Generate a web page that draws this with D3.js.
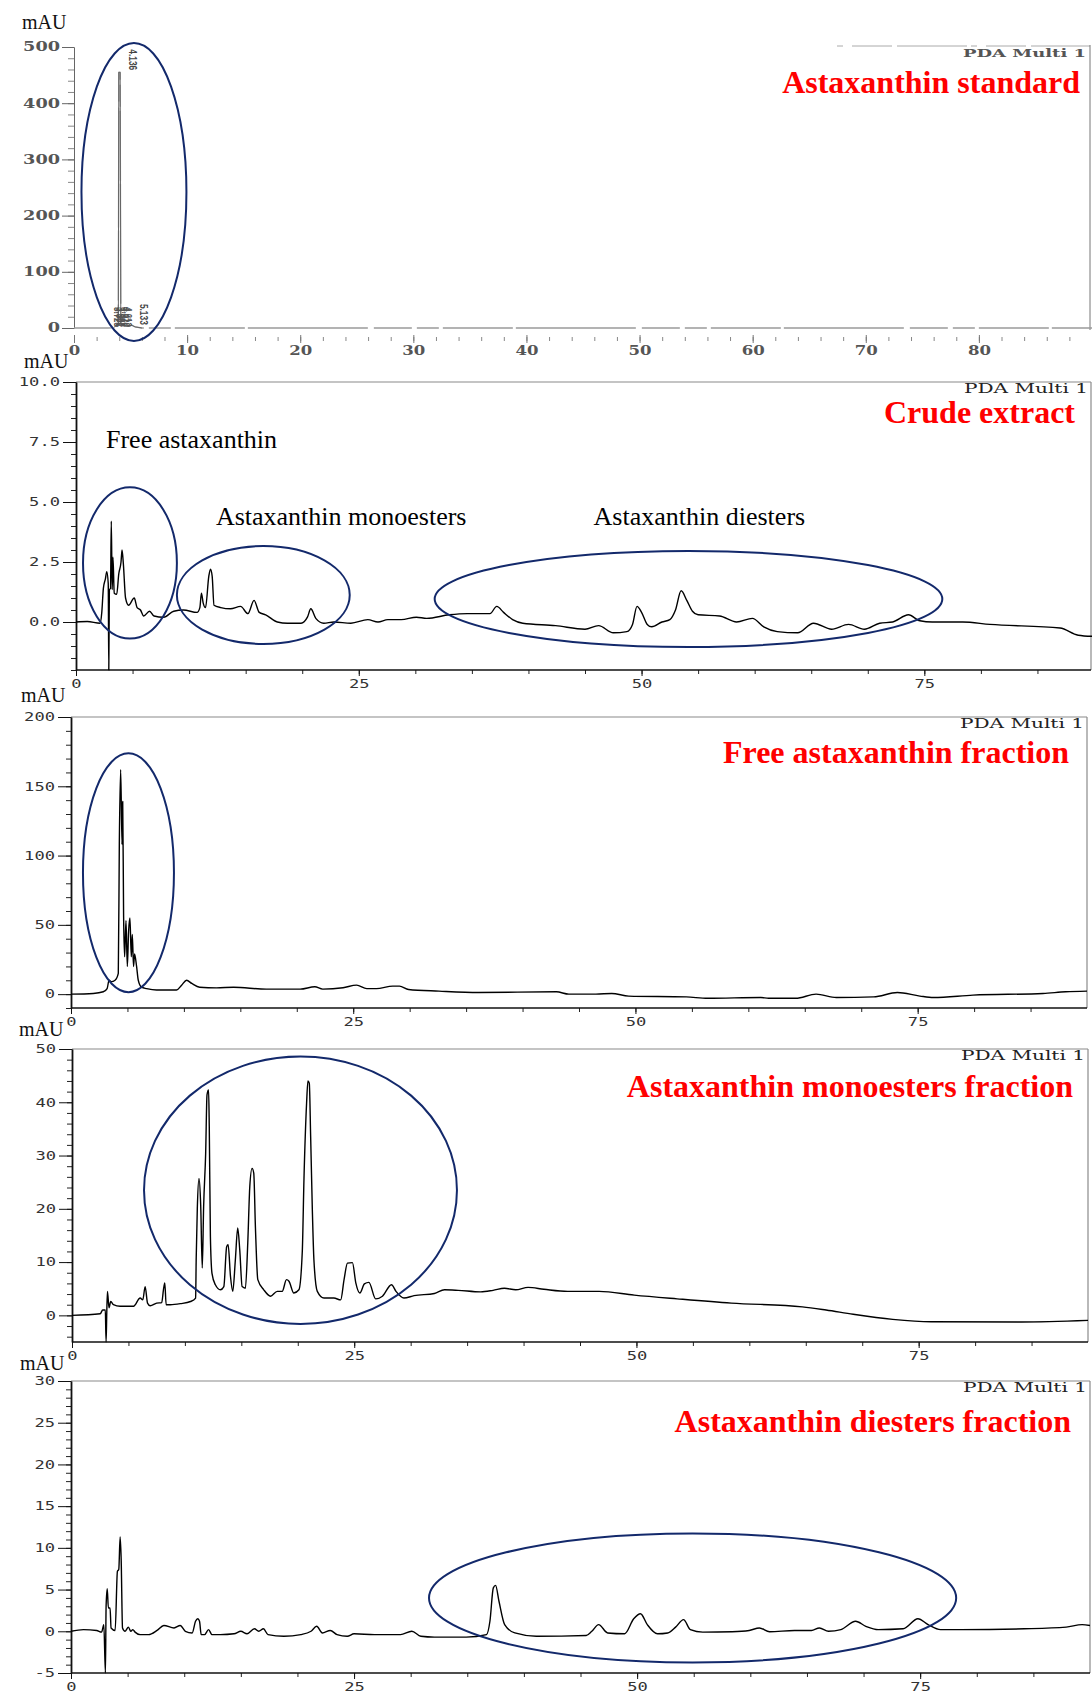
<!DOCTYPE html>
<html>
<head>
<meta charset="utf-8">
<script src="https://cdn.jsdelivr.net/npm/d3@7"></script>
<style>
  body { margin: 0; background: #fff; }
  svg { display: block; }
</style>
</head>
<body>
<div id="chart"></div>
<script>
// chromatogram traces: [retention time (min), absorbance (mAU)]
const standardTrace = [[0,0],[3.0,0],[3.5,0.5],[3.92,8],[3.96,455],[4.08,455],[4.14,8],[4.4,5],[4.8,3],[5.1,5],[5.4,2],[6,0],[90,0]];

const crudeTrace = [[0,0],[1,0.02],[2.13,-0.05],[2.28,0.4],[2.42,1.4],[2.6,1.8],[2.72,2.1],[2.85,1.6],[2.9,-2],[2.95,1.35],[3.05,1.4],[3.12,4.2],[3.2,1.35],[3.27,2.7],[3.38,1.2],[3.6,1.15],[3.78,2.0],[3.98,2.5],[4.07,3.0],[4.19,2.4],[4.38,1.0],[4.65,0.7],[5.15,1.0],[5.4,0.6],[5.7,0.5],[5.98,0.25],[6.5,0.45],[6.9,0.25],[7.75,0.2],[8.64,0.45],[9.5,0.5],[10.7,0.4],[10.95,0.6],[11.09,1.2],[11.24,0.8],[11.45,0.6],[11.74,1.9],[11.89,2.2],[12.04,1.9],[12.2,0.7],[12.8,0.6],[13.66,0.55],[14.55,0.65],[15.2,0.35],[15.74,0.9],[16.2,0.4],[16.77,0.3],[17.8,0.0],[18.7,-0.05],[19.9,-0.05],[20.46,0.2],[20.76,0.55],[21.2,0.15],[21.9,-0.05],[22.8,0.0],[24.3,-0.05],[25.8,0.1],[26.7,0.0],[27.57,0.1],[28.75,0.1],[30.1,0.2],[31.0,0.15],[33,0.3],[34.6,0.35],[36.6,0.35],[37.2,0.65],[37.8,0.4],[38.6,0.1],[39.5,-0.05],[42.4,-0.15],[45,-0.3],[46.2,-0.15],[47.5,-0.45],[48.7,-0.4],[49.2,-0.1],[49.6,0.65],[50.0,0.4],[50.5,-0.1],[50.9,-0.2],[51.8,0],[52.5,0.1],[53.0,0.5],[53.5,1.3],[54.0,0.9],[54.5,0.45],[55.0,0.3],[56.9,0.25],[58.4,0],[59.8,0.15],[60.8,-0.2],[62,-0.4],[63.8,-0.45],[65.2,-0.05],[66.8,-0.3],[68.3,-0.1],[69.7,-0.3],[71.05,-0.05],[72.2,0],[73.6,0.3],[74.6,0.05],[75.7,0],[78.4,0],[80.8,-0.1],[87,-0.25],[88.6,-0.55],[90,-0.6]];

const freeTrace = [[0,0],[1.97,0.5],[2.86,1.7],[3.2,4],[3.37,10],[3.58,9],[3.9,10],[4.19,15],[4.28,108],[4.4,162],[4.52,108],[4.58,139],[4.66,56],[4.75,27],[4.87,53],[4.99,20],[5.1,45],[5.22,55],[5.34,27],[5.43,43],[5.54,20],[5.63,29],[5.81,20],[5.96,10],[6.25,5],[6.7,4],[7.58,3],[9.35,3],[9.8,6.5],[10.24,10],[10.7,7.7],[11.4,5],[12.9,4.5],[14.4,5],[17.3,3.6],[20.3,3.6],[21.6,5.3],[22.3,3.6],[24.1,4.6],[25.3,6.5],[26.2,4],[27.05,4],[28.5,5.8],[29.1,5.8],[29.9,3.4],[32.6,2.2],[36.1,1.2],[43,1.7],[44.1,0],[46.5,0],[47.9,0.5],[49.4,-1.4],[54.5,-2],[56.4,-3],[61.1,-2.4],[61.8,-3],[64.2,-3],[66,0],[67.8,-2.4],[71.1,-2],[73.2,1.2],[75.2,-1.4],[76.4,-2.4],[79.9,-0.7],[86.1,0.5],[88.1,1.7],[90,2.2]];

const monoTrace = [[0,0],[2.5,0.3],[2.72,1],[2.95,1],[3.02,-5],[3.08,0.5],[3.14,4.5],[3.28,1.4],[3.43,2.6],[3.67,2],[4.26,1.7],[5.45,1.7],[6.04,3.25],[6.27,2.9],[6.48,5.4],[6.69,2.3],[6.93,1.8],[7.5,2.3],[7.95,2.4],[8.1,4.8],[8.22,6.1],[8.34,2],[8.7,2],[9.6,2.2],[10.5,2.6],[10.95,3.25],[11.0,10.4],[11.1,20],[11.25,25.7],[11.4,20.7],[11.54,8.9],[11.66,20.4],[11.84,30.4],[11.96,41.4],[12.1,42.3],[12.16,35.4],[12.26,14.8],[12.4,7.9],[12.7,5.75],[13.15,4.8],[13.45,5.4],[13.7,12.9],[13.83,13.25],[14.04,7.3],[14.24,4.5],[14.47,10.4],[14.68,16.4],[14.86,12.3],[15.07,5.4],[15.36,5.1],[15.57,13.6],[15.75,24.2],[15.95,27.6],[16.1,26.7],[16.25,16.4],[16.46,6.7],[16.99,4.8],[17.58,3.6],[18.18,4.5],[18.62,4.5],[19.0,6.7],[19.22,6.4],[19.65,4.2],[20.1,4.8],[20.4,12],[20.55,25.7],[20.78,39.8],[20.9,44],[21.02,43.6],[21.14,33.6],[21.29,19.8],[21.43,10.4],[21.73,4.5],[22.32,3.25],[23.2,3.25],[23.8,2.9],[24.1,6.7],[24.4,9.8],[24.84,9.9],[25.14,6.1],[25.5,4.2],[25.9,5.9],[26.3,6.2],[26.9,3.1],[27.5,3.6],[28.3,5.75],[28.7,4.5],[29.4,3.25],[30.3,3.7],[32.1,4.1],[33.0,4.8],[34.2,4.7],[36.2,4.4],[37.3,4.7],[38.3,5.1],[39.3,4.8],[40.4,5.25],[41.8,4.9],[43.9,4.5],[46.7,4.5],[49.8,3.8],[53.6,3.1],[58.4,2.3],[64.7,1.6],[66.8,1],[69.2,0.2],[72.7,-0.75],[76.1,-1.2],[84.1,-1.25],[90,-0.95]];

const diesterTrace = [[0,0],[1.1,0.2],[2.27,0.1],[2.7,-0.1],[2.9,0.8],[3.04,-5],[3.1,3],[3.2,5.1],[3.3,2.8],[3.45,2.8],[3.54,0.4],[3.9,0.1],[4.1,7.2],[4.22,7.4],[4.34,11.3],[4.43,8.7],[4.55,0.4],[4.78,0],[5.07,0.5],[5.28,0],[5.46,0.2],[5.66,-0.1],[6.1,-0.4],[6.85,-0.4],[7.6,0.1],[8.2,0.7],[9.1,0.4],[9.65,0.7],[10.1,0],[10.7,-0.2],[11.0,1.2],[11.2,1.5],[11.35,1.2],[11.5,-0.4],[11.8,-0.4],[12.15,0.2],[12.45,-0.4],[13.2,-0.4],[14.4,-0.3],[15.0,0],[15.55,-0.3],[16.2,0.3],[16.58,0],[17.0,0.3],[17.4,-0.4],[18.8,-0.6],[20.3,-0.4],[21.2,0],[21.7,0.6],[22.2,-0.2],[22.9,0.1],[23.5,-0.4],[24.4,-0.6],[25.0,-0.3],[26.8,-0.4],[29.1,-0.4],[30.1,0],[30.9,-0.6],[32.1,-0.7],[34.9,-0.7],[36.7,-0.4],[37.0,1.2],[37.3,5.2],[37.5,5.5],[37.8,3.6],[38.3,0.8],[39.2,-0.2],[41.1,-0.6],[45.5,-0.5],[46.0,0],[46.6,0.8],[47.4,-0.2],[48.9,-0.3],[49.7,1.5],[50.3,2.1],[50.9,0.8],[51.8,-0.3],[52.7,-0.2],[53.4,0.5],[54.1,1.4],[54.7,0.2],[55.8,-0.1],[58.4,-0.05],[59.9,0.1],[60.8,0.4],[61.7,-0.05],[63.9,0.1],[65.4,0.1],[66.1,0.4],[66.9,0],[68.0,0.2],[69.3,1.2],[70.2,0.6],[71.3,0.2],[73.5,0.3],[74.8,1.5],[75.7,0.8],[76.8,0.2],[78.6,0.2],[84.2,0.3],[87.9,0.5],[89.3,0.8],[90,0.7]];

// retention time labels printed on the standard run
const standardPeaks = [{ t: 4.136, v: 455 }, { t: 5.133, v: 2 }];
const standardCluster = [3.725, 3.892, 3.981, 4.420, 4.612];

// tick labels
const stdYTicks = [0, 100, 200, 300, 400, 500];
const stdXTicks = [0, 10, 20, 30, 40, 50, 60, 70, 80];
const crudeYTicks = [0, 2.5, 5, 7.5, 10];
const freeYTicks = [0, 50, 100, 150, 200];
const monoYTicks = [0, 10, 20, 30, 40, 50];
const diesterYTicks = [-5, 0, 5, 10, 15, 20, 25, 30];
const timeTicks = [0, 25, 50, 75];

const titles = ["Astaxanthin standard", "Crude extract", "Free astaxanthin fraction",
  "Astaxanthin monoesters fraction", "Astaxanthin diesters fraction"];

// group annotations (centre time/value and half-widths in data units)
const crudeNotes = [
  { text: "Free astaxanthin", t: 2.65, v: 7.25 },
  { text: "Astaxanthin monoesters", t: 12.37, v: 4.04 },
  { text: "Astaxanthin diesters", t: 45.76, v: 4.04 }
];
const stdEllipses = [{ t: 5.3, v: 242, dt: 4.64, dv: 265 }];
const crudeEllipses = [
  { t: 4.77, v: 2.46, dt: 4.15, dv: 3.15 },
  { t: 16.56, v: 1.125, dt: 7.64, dv: 2.04 },
  { t: 54.15, v: 0.96, dt: 22.44, dv: 2.0 }
];
const freeEllipses = [{ t: 5.09, v: 87.6, dt: 4.03, dv: 86.2 }];
const monoEllipses = [{ t: 20.24, v: 23.5, dt: 13.86, dv: 25.1 }];
const diesterEllipses = [{ t: 54.9, v: 4.0, dt: 23.28, dv: 7.73 }];

const width = 1092, height = 1694;
const ringColor = "#13296b";

const svg = d3.select("#chart").append("svg")
  .attr("width", width)
  .attr("height", height)
  .attr("viewBox", [0, 0, width, height]);

svg.append("rect").attr("width", width).attr("height", height).attr("fill", "#fff");

function styleLabels(sel, perChar, font, weight, fill, size) {
  sel.selectAll("text")
    .attr("font-family", font)
    .attr("font-weight", weight)
    .attr("font-size", size)
    .attr("fill", fill)
    .attr("lengthAdjust", "spacingAndGlyphs")
    .attr("textLength", function () { return this.textContent.length * perChar; });
}

function drawEllipses(g, list, x, y) {
  g.selectAll(".ring")
    .data(list)
    .join("ellipse")
    .attr("class", "ring")
    .attr("cx", d => x(d.t))
    .attr("cy", d => y(d.v))
    .attr("rx", d => x(d.t + d.dt) - x(d.t))
    .attr("ry", d => y(d.v) - y(d.v + d.dv))
    .attr("fill", "none")
    .attr("stroke", ringColor)
    .attr("stroke-width", 2);
}

function mau(g, x, yb) {
  g.append("text")
    .attr("x", x).attr("y", yb)
    .attr("font-family", "Liberation Serif")
    .attr("font-size", 20)
    .attr("fill", "#111")
    .text("mAU");
}

function redTitle(g, text, x, yb) {
  g.append("text")
    .attr("x", x).attr("y", yb)
    .attr("text-anchor", "end")
    .attr("font-family", "Liberation Serif")
    .attr("font-weight", "bold")
    .attr("font-size", 32)
    .attr("fill", "#ff0000")
    .text(text);
}

// ---------- panel 1: scanned standard run ----------
{
  const x = d3.scaleLinear().domain([0, 90]).range([74, 1092]);
  const y = d3.scaleLinear().domain([0, 500]).range([328, 47]);
  const g = svg.append("g");

  g.append("line")
    .attr("x1", 837).attr("x2", 1090).attr("y1", 46).attr("y2", 46)
    .attr("stroke", "#aaa").attr("stroke-dasharray", "6,9,40,5,70,4");
  g.append("line")
    .attr("x1", 1090).attr("x2", 1090).attr("y1", 45).attr("y2", 330)
    .attr("stroke", "#777");

  g.append("g")
    .attr("transform", "translate(74,0)")
    .attr("color", "#888")
    .call(d3.axisLeft(y).tickValues(d3.range(0, 501, 20)).tickSize(6).tickSizeOuter(0).tickFormat(""));
  const ya = g.append("g")
    .attr("transform", "translate(74,0)")
    .attr("color", "#666")
    .call(d3.axisLeft(y).tickValues(stdYTicks).tickSize(12).tickSizeOuter(0).tickPadding(2));
  styleLabels(ya, 12.3, "DejaVu Serif", "bold", "#555", 12);

  const xm = g.append("g")
    .attr("transform", "translate(0,337)")
    .attr("color", "#888")
    .call(d3.axisBottom(x).tickValues(d3.range(0, 90, 2)).tickSize(4).tickSizeOuter(0).tickFormat(""));
  xm.select(".domain").remove();
  const xa = g.append("g")
    .attr("transform", "translate(0,335)")
    .attr("color", "#777")
    .call(d3.axisBottom(x).tickValues(stdXTicks).tickSize(8).tickSizeOuter(0).tickPadding(3));
  xa.select(".domain").remove();
  styleLabels(xa, 11.5, "DejaVu Serif", "bold", "#555", 12);

  const line = d3.line().x(d => x(d[0])).y(d => y(d[1]));
  g.append("path")
    .datum(standardTrace)
    .attr("d", line)
    .attr("fill", "none")
    .attr("stroke", "#9a9a9a")
    .attr("stroke-width", 1.3)
    .attr("stroke-dasharray", "38,5,22,4,70,3,120,6");
  g.append("path")
    .datum(standardTrace.filter(d => d[0] > 3.4 && d[0] < 6.1))
    .attr("d", line)
    .attr("fill", "none")
    .attr("stroke", "#666")
    .attr("stroke-width", 1);

  g.selectAll(".clus")
    .data(standardCluster)
    .join("text")
    .attr("class", "clus")
    .attr("transform", d => `translate(${x(d) - 2},${y(0) - 1}) rotate(90)`)
    .attr("text-anchor", "end")
    .attr("font-family", "Liberation Sans")
    .attr("font-weight", "bold")
    .attr("font-size", 10)
    .attr("fill", "#555")
    .attr("textLength", 20)
    .attr("lengthAdjust", "spacingAndGlyphs")
    .text(d => d3.format(".3f")(d));

  g.selectAll(".pk")
    .data(standardPeaks)
    .join("text")
    .attr("class", "pk")
    .attr("transform", d => `translate(${x(d.t) + 8},${y(d.v) - 2}) rotate(90)`)
    .attr("text-anchor", "end")
    .attr("font-family", "Liberation Sans")
    .attr("font-weight", "bold")
    .attr("font-size", 10)
    .attr("fill", "#444")
    .attr("textLength", 21)
    .attr("lengthAdjust", "spacingAndGlyphs")
    .text(d => d3.format(".3f")(d.t));

  g.append("text")
    .attr("x", 963).attr("y", 57)
    .attr("font-family", "DejaVu Serif")
    .attr("font-weight", "bold")
    .attr("font-size", 11)
    .attr("fill", "#555")
    .attr("textLength", 123)
    .attr("lengthAdjust", "spacingAndGlyphs")
    .text("PDA Multi 1");

  drawEllipses(g, stdEllipses, x, y);
  mau(g, 22, 29);
  redTitle(g, titles[0], 1080, 93);
}

// ---------- panels 2-5: digital LC runs ----------
const panels = [
  { trace: crudeTrace, yDomain: [-2, 10], yTicks: crudeYTicks, yMinor: d3.range(-2, 10.01, 0.5), fmt: d3.format(".1f"),
    left: 76, right: 1094, frameRight: 1091, top: 382, bottom: 670,
    title: titles[1], titleX: 1075, titleY: 423, mauX: 24, mauY: 368, ellipses: crudeEllipses, notes: crudeNotes },
  { trace: freeTrace, yDomain: [-10, 200], yTicks: freeYTicks, yMinor: d3.range(-10, 200.1, 10), fmt: d => String(d),
    left: 71, right: 1087, frameRight: 1087, top: 717, bottom: 1008,
    title: titles[2], titleX: 1069, titleY: 763, mauX: 21, mauY: 702, ellipses: freeEllipses, notes: [] },
  { trace: monoTrace, yDomain: [-5, 50], yTicks: monoYTicks, yMinor: d3.range(-4, 50.1, 2), fmt: d => String(d),
    left: 72, right: 1088, frameRight: 1088, top: 1049, bottom: 1342,
    title: titles[3], titleX: 1073, titleY: 1097, mauX: 19, mauY: 1036, ellipses: monoEllipses, notes: [] },
  { trace: diesterTrace, yDomain: [-5, 30], yTicks: diesterYTicks, yMinor: d3.range(-5, 30.1, 1), fmt: d => String(d),
    left: 71, right: 1090, frameRight: 1090, top: 1381, bottom: 1673,
    title: titles[4], titleX: 1071, titleY: 1432, mauX: 20, mauY: 1370, ellipses: diesterEllipses, notes: [] }
];

for (const p of panels) {
  const x = d3.scaleLinear().domain([0, 90]).range([p.left, p.right]);
  const y = d3.scaleLinear().domain(p.yDomain).range([p.bottom, p.top]);
  const g = svg.append("g");

  g.append("line")
    .attr("x1", p.left).attr("x2", p.frameRight).attr("y1", p.top).attr("y2", p.top)
    .attr("stroke", "#8a8a8a").attr("stroke-width", 1.2);
  g.append("line")
    .attr("x1", p.frameRight).attr("x2", p.frameRight).attr("y1", p.top).attr("y2", p.bottom)
    .attr("stroke", "#8a8a8a").attr("stroke-width", 1.2);

  // y axis
  g.append("g")
    .attr("transform", `translate(${p.left},0)`)
    .attr("color", "#222")
    .call(d3.axisLeft(y).tickValues(p.yMinor).tickSize(5).tickSizeOuter(0).tickFormat(""));
  const ya = g.append("g")
    .attr("transform", `translate(${p.left},0)`)
    .attr("color", "#111")
    .call(d3.axisLeft(y).tickValues(p.yTicks).tickSize(13).tickSizeOuter(0).tickPadding(3).tickFormat(p.fmt));
  ya.select(".domain").attr("stroke-width", 1.8);
  styleLabels(ya, 10.3, "DejaVu Sans Mono", "normal", "#333", 12);

  // x axis
  g.append("g")
    .attr("transform", `translate(0,${p.bottom})`)
    .attr("color", "#222")
    .call(d3.axisBottom(x).tickValues(d3.range(0, 90, 5)).tickSize(4).tickSizeOuter(0).tickFormat(""))
    .call(a => a.select(".domain").remove());
  const xa = g.append("g")
    .attr("transform", `translate(0,${p.bottom})`)
    .attr("color", "#111")
    .call(d3.axisBottom(x).tickValues(timeTicks).tickSize(6).tickSizeOuter(0).tickPadding(3));
  xa.select(".domain").attr("d", `M${p.left},0H${p.frameRight}`).attr("stroke-width", 1.5);
  styleLabels(xa, 10.3, "DejaVu Sans Mono", "normal", "#333", 12);

  // trace
  const line = d3.line().curve(d3.curveMonotoneX).x(d => x(d[0])).y(d => y(d[1]));
  g.append("path")
    .datum(p.trace)
    .attr("d", line)
    .attr("fill", "none")
    .attr("stroke", "#000")
    .attr("stroke-width", 1.4)
    .attr("stroke-linejoin", "round");

  g.append("text")
    .attr("x", p.frameRight - 127).attr("y", p.top + 11)
    .attr("font-family", "DejaVu Serif")
    .attr("font-size", 12)
    .attr("fill", "#222")
    .attr("textLength", 124)
    .attr("lengthAdjust", "spacingAndGlyphs")
    .text("PDA Multi 1");

  g.selectAll(".note")
    .data(p.notes)
    .join("text")
    .attr("class", "note")
    .attr("x", d => x(d.t))
    .attr("y", d => y(d.v))
    .attr("font-family", "Liberation Serif")
    .attr("font-size", 26)
    .attr("fill", "#000")
    .text(d => d.text);

  drawEllipses(g, p.ellipses, x, y);
  mau(g, p.mauX, p.mauY);
  redTitle(g, p.title, p.titleX, p.titleY);
}
</script>
</body>
</html>
